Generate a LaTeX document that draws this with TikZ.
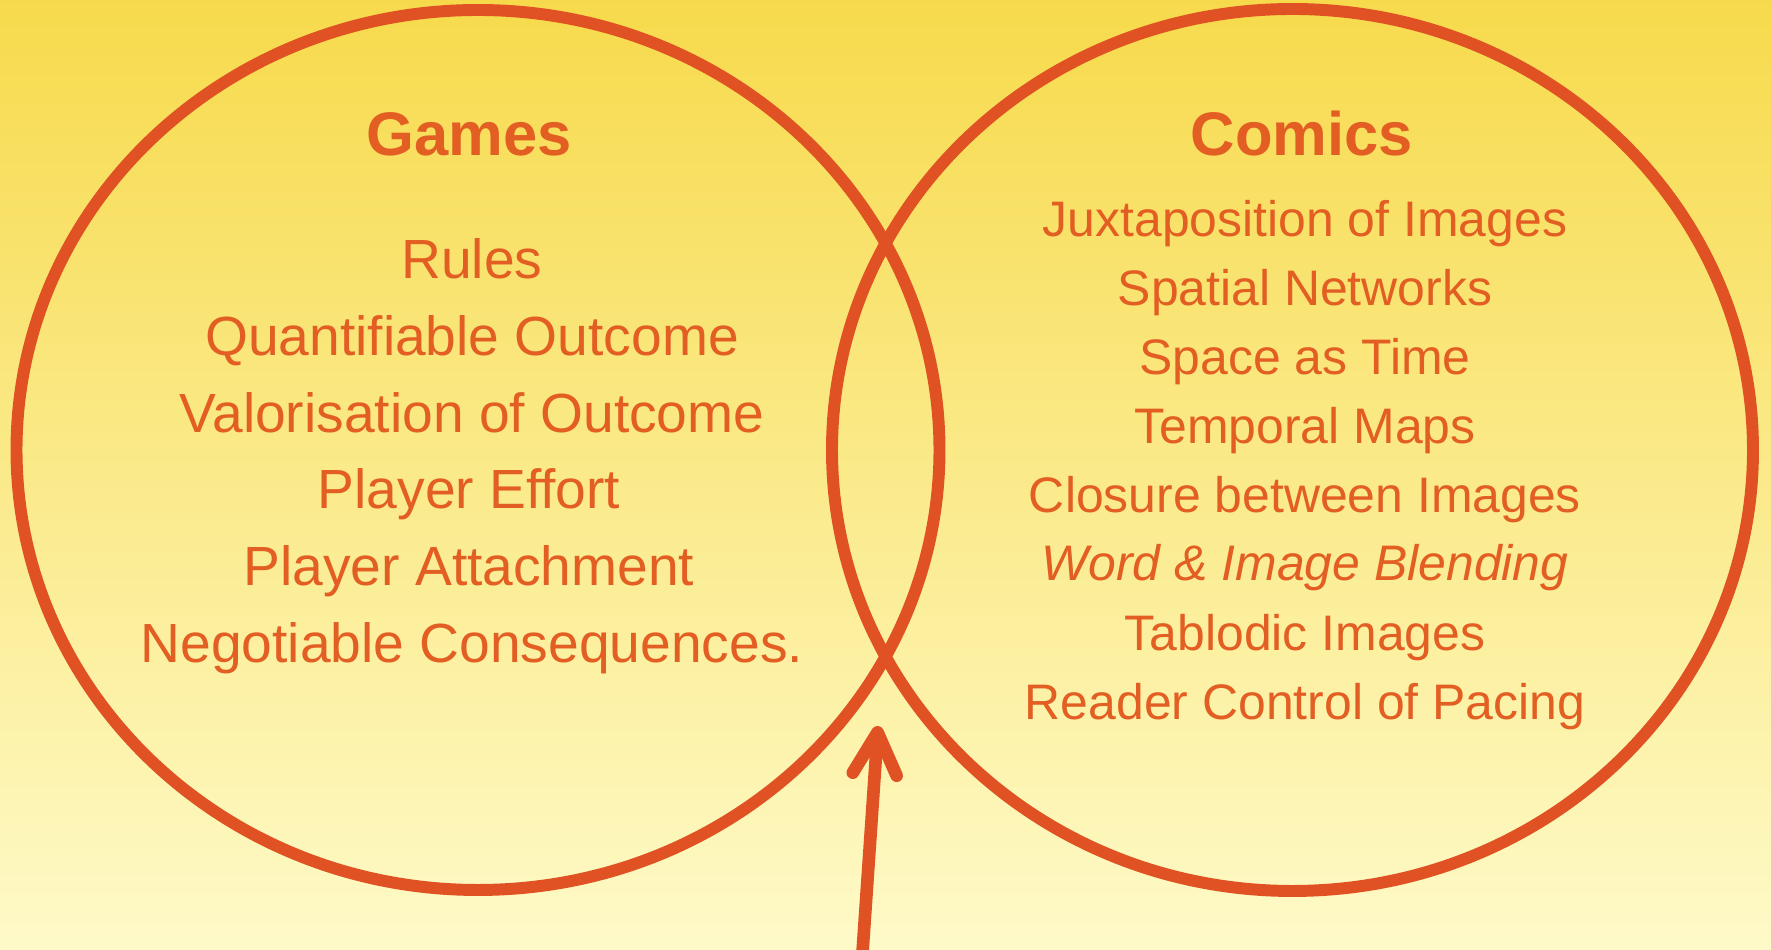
\documentclass[tikz,border=0pt]{standalone}
\usepackage{fontspec}
\setmainfont{Liberation Sans}
\usepackage{tikz}
\usetikzlibrary{arrows.meta,shapes.geometric,positioning}
\usepackage{xcolor}
\definecolor{vnred}{RGB}{224,82,35}
\definecolor{vnorange}{RGB}{227,94,35}
\definecolor{vntop}{RGB}{247,218,76}
\definecolor{vnbottom}{RGB}{254,250,200}
\tikzstyle{vennset} = [ellipse, draw=vnred, line width=3.4pt, inner sep=0pt]
\tikzstyle{settitle} = [anchor=base, text=vnorange, font=\fontsize{17.5}{20}\selectfont\bfseries]
\tikzstyle{trait} = [anchor=base, text=vnorange, font=\fontsize{14.2}{16}\selectfont]
\tikzstyle{gametrait} = [trait, font=\fontsize{15.7}{18}\selectfont]
\tikzstyle{pointer} = [line width=3.6pt, line cap=round, draw=vnred, -{Straight Barb[length=4.2mm, width=4.4mm, line cap=round, line join=round]}]

\begin{document}
\begin{tikzpicture}
    % background
    \useasboundingbox (0,0) rectangle (17.71,9.5);
    \fill[top color=vntop, bottom color=vnbottom] (0,0) rectangle (17.71,9.5);

    % the two sets
    \node[vennset, minimum width=9.23cm, minimum height=8.8cm] (games) at (4.78,5.0) {};
    \node[vennset, minimum width=9.21cm, minimum height=8.82cm] (comics) at (12.925,5.0) {};

    % Games
    \node[settitle] (gamestitle) at (4.69,7.94) {Games};
    \node[gametrait] (rules) at (4.72,6.71) {Rules};
    \node[gametrait] (outcome) at (4.72,5.94) {Quantifiable Outcome};
    \node[gametrait] (valor) at (4.72,5.17) {Valorisation of Outcome};
    \node[gametrait] (effort) at (4.69,4.41) {Player Effort};
    \node[gametrait] (attach) at (4.69,3.64) {Player Attachment};
    \node[gametrait] (negot) at (4.72,2.87) {Negotiable Consequences.};

    % Comics
    \node[settitle] (comicstitle) at (13.02,7.94) {Comics};
    \node[trait] (juxta) at (13.05,7.13) {Juxtaposition of Images};
    \node[trait] (spatial) at (13.05,6.44) {Spatial Networks};
    \node[trait] (spacetime) at (13.05,5.75) {Space as Time};
    \node[trait] (tempmaps) at (13.05,5.06) {Temporal Maps};
    \node[trait] (closure) at (13.05,4.37) {Closure between Images};
    \node[trait, font=\fontsize{14.2}{16}\selectfont\itshape] (blending) at (13.05,3.69) {Word \& Image Blending};
    \node[trait] (tablodic) at (13.05,2.99) {Tablodic Images};
    \node[trait] (pacing) at (13.05,2.30) {Reader Control of Pacing};

    % arrow into the overlap
    \coordinate (arrowtail) at (8.62,-0.1);
    \coordinate (arrowtip) at (8.78,2.24);
    \draw[pointer] (arrowtail) -- (arrowtip);
\end{tikzpicture}
\end{document}
